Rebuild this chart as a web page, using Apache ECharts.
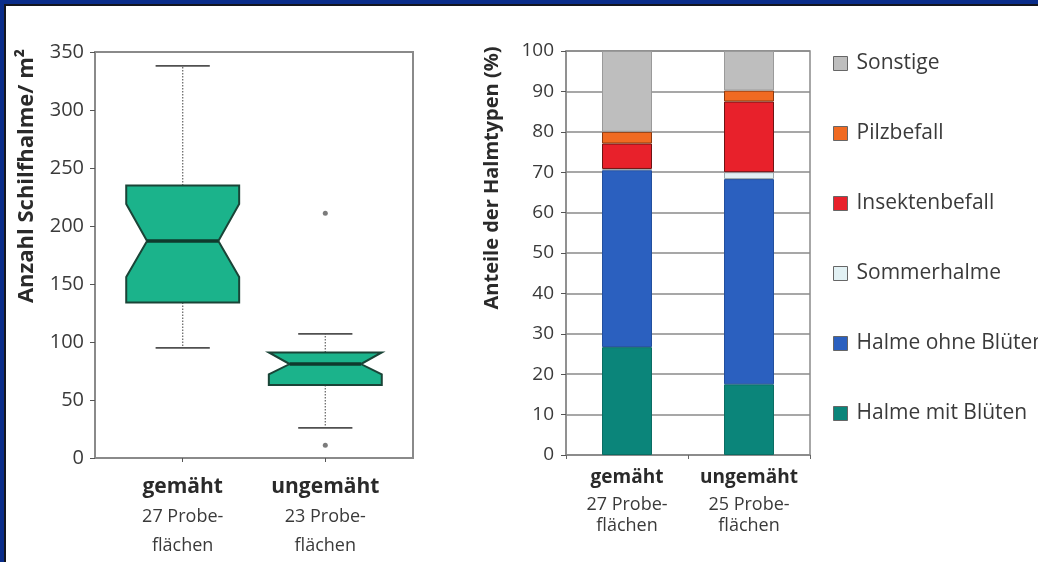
<!DOCTYPE html>
<html>
<head>
<meta charset="utf-8">
<script src="https://cdn.jsdelivr.net/npm/echarts@6/dist/echarts.min.js"></script>
<style>
html,body{margin:0;padding:0;background:#fff;overflow:hidden;width:1038px;height:562px;}
#wrap{position:relative;width:1038px;height:562px;overflow:hidden;background:#fff;}
#chart{position:absolute;left:0;top:0;width:1038px;height:562px;}
.bt{position:absolute;left:0;top:0;width:1038px;height:4px;background:#0a2d8a;}
.bt2{position:absolute;left:4px;top:4px;width:1034px;height:2px;background:#14161e;}
.bl{position:absolute;left:0;top:0;width:4px;height:562px;background:#0a2d8a;}
.bl2{position:absolute;left:4px;top:4px;width:2px;height:558px;background:#14161e;}
</style>
</head>
<body>
<div id="wrap">
<div id="chart"></div>
<div class="bt"></div><div class="bt2"></div><div class="bl"></div><div class="bl2"></div>
</div>
<script>
// ---------- Data: left boxplot ----------
const boxCategories = ['gemäht', 'ungemäht'];
const boxSamples = ['27 Probe-', '23 Probe-'];
const boxPositions = [1, 2];
const whiskerLow = [95, 26];
const quart1 = [134, 63];
const notchLow = [156, 72];
const medians = [187, 81];
const notchHigh = [219, 91];
const quart3 = [235, 91];
const whiskerHigh = [338, 107];
const outliers = [[2, 211], [2, 11]];
const boxTicks = [0, 50, 100, 150, 200, 250, 300, 350];

// ---------- Data: right stacked bars ----------
const barCategories = ['gemäht', 'ungemäht'];
const barSamples = ['27 Probe-', '25 Probe-'];
const seriesNames = ['Halme mit Blüten', 'Halme ohne Blüten', 'Sommerhalme', 'Insektenbefall', 'Pilzbefall', 'Sonstige'];
const mitBlueten = [26.7, 17.5];
const ohneBlueten = [43.8, 50.8];
const sommerhalme = [0.3, 1.7];
const insektenbefall = [6.3, 17.5];
const pilzbefall = [2.9, 2.7];
const sonstige = [20.0, 9.8];
const barValues = [mitBlueten, ohneBlueten, sommerhalme, insektenbefall, pilzbefall, sonstige];
const legendOrder = ['Sonstige', 'Pilzbefall', 'Insektenbefall', 'Sommerhalme', 'Halme ohne Blüten', 'Halme mit Blüten'];

// ---------- Styles ----------
const FONT = '"Open Sans", "Noto Sans", sans-serif';
const barColors = ['#0b857a', '#2b60bf', '#e2f1f4', '#e8212b', '#f06a22', '#bebebe'];
const barBorders = ['#0a6d63', '#224f9e', '#9aa9ad', '#6e1414', '#8a3a10', '#9a9a9a'];
const BOX_HALF = 0.396, NOTCH_HALF = 0.25, CAP_HALF = 0.19;

const boxData = boxPositions.map((x, i) => [x, whiskerLow[i], quart1[i], notchLow[i], medians[i], notchHigh[i], quart3[i], whiskerHigh[i]]);

function renderBox(params, api) {
  const x = api.value(0);
  const wl = api.value(1), q1 = api.value(2), nl = api.value(3), md = api.value(4), nh = api.value(5), q3 = api.value(6), wh = api.value(7);
  const c = (xv, yv) => api.coord([xv, yv]);
  const xl = x - BOX_HALF, xr = x + BOX_HALF, nxl = x - NOTCH_HALF, nxr = x + NOTCH_HALF;
  const poly = [c(xl, q3), c(xr, q3), c(xr, nh), c(nxr, md), c(xr, nl), c(xr, q1), c(xl, q1), c(xl, nl), c(nxl, md), c(xl, nh)];
  const dotted = {stroke: '#6e6e6e', lineWidth: 1.3, lineDash: [1.5, 1.5]};
  const cap = {stroke: '#505050', lineWidth: 1.8};
  const line = (a, b, style) => ({type: 'line', shape: {x1: a[0], y1: a[1], x2: b[0], y2: b[1]}, style: style});
  return {
    type: 'group',
    children: [
      line(c(x, q3), c(x, wh), dotted),
      line(c(x, q1), c(x, wl), dotted),
      line(c(x - CAP_HALF, wh), c(x + CAP_HALF, wh), cap),
      line(c(x - CAP_HALF, wl), c(x + CAP_HALF, wl), cap),
      {type: 'polygon', shape: {points: poly}, style: {fill: '#1bb38b', stroke: '#1a4437', lineWidth: 2}},
      line(c(nxl, md), c(nxr, md), {stroke: '#0f3a2d', lineWidth: 3.5})
    ]
  };
}

const chart = echarts.init(document.getElementById('chart'));
const axisGray = '#8a8a8a';
const labelColor = '#3a3a3a';

const option = {
  backgroundColor: '#fff',
  animation: false,
  textStyle: {fontFamily: FONT},
  grid: [
    {left: 95, top: 52, width: 318, height: 406, show: true, borderColor: axisGray, borderWidth: 2, backgroundColor: 'transparent'},
    {left: 566, top: 51, width: 244, height: 404, show: true, borderColor: axisGray, borderWidth: 1.5, backgroundColor: 'transparent'}
  ],
  xAxis: [
    {
      type: 'value', gridIndex: 0, min: 0.385, max: 2.615,
      splitLine: {show: false},
      axisLine: {show: true, lineStyle: {color: axisGray, width: 2}},
      axisTick: {show: true, customValues: boxPositions, length: 4, lineStyle: {color: '#555'}},
      axisLabel: {
        customValues: boxPositions, margin: 14,
        formatter: function (v) {
          const i = boxPositions.indexOf(v);
          return '{b|' + boxCategories[i] + '}\n{r|' + boxSamples[i] + '}\n{r|flächen}';
        },
        rich: {
          b: {fontSize: 21, fontWeight: 'bold', color: '#2a2a2a', lineHeight: 30, fontFamily: FONT},
          r: {fontSize: 18, color: labelColor, lineHeight: 29, fontFamily: FONT}
        }
      }
    },
    {
      type: 'category', gridIndex: 1, data: barCategories,
      axisLine: {show: true, lineStyle: {color: axisGray, width: 1.5}},
      axisTick: {show: true, length: 4, lineStyle: {color: '#666'}},
      axisLabel: {
        margin: 10, interval: 0,
        formatter: function (v, i) {
          return '{b|' + barCategories[i] + '}\n{p|' + barSamples[i] + '}\n{f|flächen}';
        },
        rich: {
          b: {fontSize: 19, fontWeight: 'bold', color: '#2a2a2a', lineHeight: 26, fontFamily: FONT},
          p: {fontSize: 18, color: labelColor, lineHeight: 28, fontFamily: FONT},
          f: {fontSize: 18, color: labelColor, lineHeight: 14, fontFamily: FONT}
        }
      }
    }
  ],
  yAxis: [
    {
      type: 'value', gridIndex: 0, min: 0, max: 350, interval: 50,
      splitLine: {show: false},
      axisLine: {show: true, lineStyle: {color: axisGray, width: 2}},
      axisTick: {show: true, length: 5, lineStyle: {color: '#555'}},
      axisLabel: {fontSize: 20, color: labelColor, margin: 11, fontFamily: FONT}
    },
    {
      type: 'value', gridIndex: 1, min: 0, max: 100, interval: 10,
      splitLine: {show: true, lineStyle: {color: axisGray, width: 1.5}},
      axisLine: {show: true, lineStyle: {color: axisGray, width: 1.5}},
      axisTick: {show: true, length: 5, lineStyle: {color: '#555'}},
      axisLabel: {fontSize: 19, color: labelColor, margin: 12, fontFamily: FONT}
    }
  ],
  legend: {
    orient: 'vertical', left: 828, top: 48,
    data: legendOrder,
    itemWidth: 14, itemHeight: 14, itemGap: 49,
    icon: 'rect',
    itemStyle: {borderColor: '#666', borderWidth: 1},
    textStyle: {fontSize: 21, color: labelColor, lineHeight: 20, padding: [0, 0, 0, 4], fontFamily: FONT}
  },
  graphic: [
    {type: 'text', x: 27, y: 176, rotation: Math.PI / 2,
      style: {text: 'Anzahl Schilfhalme/ m²', font: 'bold 22px ' + FONT, fill: '#2a2a2a', textAlign: 'center', textVerticalAlign: 'middle'}},
    {type: 'text', x: 492, y: 178, rotation: Math.PI / 2,
      style: {text: 'Anteile der Halmtypen (%)', font: 'bold 20px ' + FONT, fill: '#2a2a2a', textAlign: 'center', textVerticalAlign: 'middle'}}
  ],
  series: [
    {
      type: 'custom', name: 'box', xAxisIndex: 0, yAxisIndex: 0,
      renderItem: renderBox, data: boxData,
      encode: {x: 0, y: [1, 2, 3, 4, 5, 6, 7]}
    },
    {
      type: 'scatter', name: 'outliers', xAxisIndex: 0, yAxisIndex: 0,
      data: outliers, symbolSize: 5,
      itemStyle: {color: '#5a5a5a'}
    }
  ].concat(seriesNames.map((n, i) => ({
    type: 'bar', name: n, xAxisIndex: 1, yAxisIndex: 1, stack: 'total',
    data: barValues[i], barWidth: 50,
    itemStyle: {color: barColors[i], borderColor: barBorders[i], borderWidth: 1}
  })))
};
chart.setOption(option);
</script>
</body>
</html>
